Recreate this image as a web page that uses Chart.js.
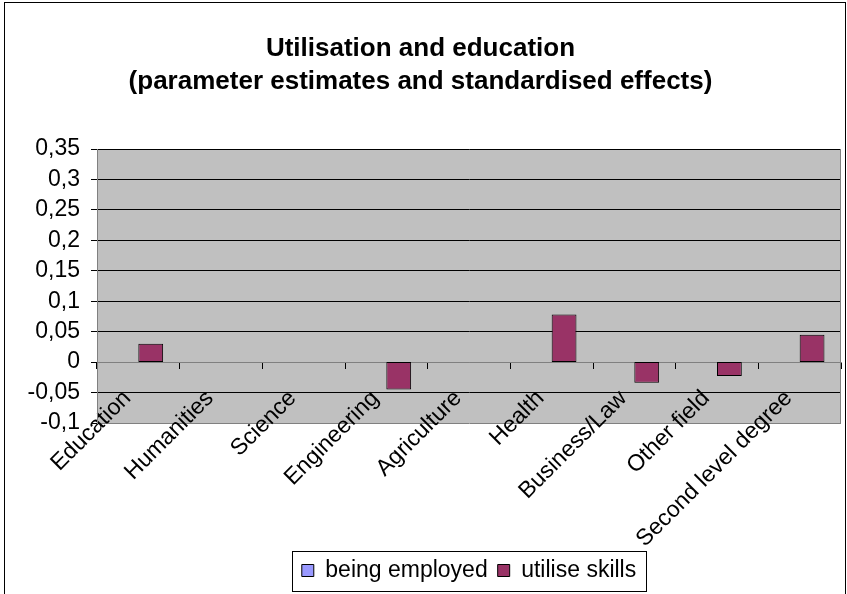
<!DOCTYPE html>
<html>
<head>
<meta charset="utf-8">
<script src="https://cdn.jsdelivr.net/npm/chart.js@4.4.1/dist/chart.umd.min.js"></script>
<style>
  html, body { margin: 0; padding: 0; background: #fff; }
  canvas { display: block; }
</style>
</head>
<body>
<canvas id="myChart" width="847" height="594"></canvas>
<script>
// data
const categories = ['Education', 'Humanities', 'Science', 'Engineering', 'Agriculture',
  'Health', 'Business/Law', 'Other field', 'Second level degree'];
const beingEmployed = [null, null, null, null, null, null, null, null, null];
const utiliseSkills = [0.03, null, null, -0.045, null, 0.078, -0.034, -0.023, 0.045];
const yTickLabels = ['-0,1', '-0,05', '0', '0,05', '0,1', '0,15', '0,2', '0,25', '0,3', '0,35'];
const titleLines = ['Utilisation and education', '(parameter estimates and standardised effects)'];

const FONT = "'Liberation Sans', Arial, sans-serif";
Chart.defaults.font.family = FONT;
Chart.defaults.color = '#000';

// white page, outer frame, grey plot area, plot border, legend frame
const frame = {
  id: 'frame',
  beforeDraw(chart) {
    const ctx = chart.ctx, a = chart.chartArea;
    ctx.save();
    ctx.fillStyle = '#fff';
    ctx.fillRect(0, 0, chart.width, chart.height);
    ctx.strokeStyle = '#000';
    ctx.lineWidth = 1;
    ctx.strokeRect(4.5, 2.5, 841, 600);
    ctx.fillStyle = '#c0c0c0';
    ctx.fillRect(a.left, a.top, a.right - a.left, a.bottom - a.top);
    ctx.restore();
  },
  afterDraw(chart) {
    const ctx = chart.ctx, a = chart.chartArea;
    ctx.save();
    ctx.strokeStyle = '#808080';
    ctx.lineWidth = 1;
    ctx.beginPath();
    ctx.moveTo(Math.round(a.right) - 0.5, a.top);
    ctx.lineTo(Math.round(a.right) - 0.5, a.bottom);
    ctx.stroke();
    const hb = chart.legend.legendHitBoxes;
    if (hb && hb.length) {
      const last = hb[hb.length - 1];
      const l = Math.round(hb[0].left - 10), r = Math.round(last.left + last.width + 10);
      const cy = Math.round(hb[0].top + hb[0].height / 2);
      ctx.strokeStyle = '#000';
      ctx.strokeRect(l + 0.5, cy - 20 + 0.5, r - l, 40);
    }
    ctx.restore();
  }
};

const init = function () {
  const ctx = document.getElementById('myChart').getContext('2d');
  new Chart(ctx, {
    type: 'bar',
    data: {
      labels: categories,
      datasets: [{
        label: 'being employed',
        data: beingEmployed,
        backgroundColor: '#9999ff',
        borderColor: '#000',
        borderWidth: 1,
        borderSkipped: false,
        xAxisID: 'x'
      }, {
        label: 'utilise skills',
        data: utiliseSkills,
        backgroundColor: '#993366',
        borderColor: '#000',
        borderWidth: 1,
        borderSkipped: false,
        xAxisID: 'x'
      }]
    },
    options: {
      responsive: false,
      animation: false,
      devicePixelRatio: 1,
      categoryPercentage: 0.6,
      barPercentage: 1,
      layout: { padding: { left: 0, right: 6, top: 0, bottom: 2 } },
      plugins: {
        tooltip: { enabled: false },
        title: {
          display: true,
          text: titleLines,
          color: '#000',
          font: { size: 26, weight: 'bold', lineHeight: 1.25 },
          padding: { top: 33, bottom: 51 }
        },
        legend: {
          position: 'bottom',
          fullSize: false,
          labels: {
            boxWidth: 12,
            boxHeight: 12,
            padding: 10,
            color: '#000',
            font: { size: 23 }
          }
        }
      },
      scales: {
        // bottom axis only keeps room for the slanted labels
        x: {
          type: 'category',
          offset: true,
          grid: { display: false },
          border: { display: false },
          ticks: { display: false },
          afterFit: s => { s.height = 126; }
        },
        // labels, drawn from the -0,1 line so they can run into the plot area
        xLabels: {
          type: 'category',
          position: { y: -0.1 },
          offset: true,
          grid: { display: false },
          border: { display: false },
          ticks: {
            autoSkip: false,
            minRotation: 45,
            maxRotation: 45,
            padding: -46,
            labelOffset: -11,
            color: '#000',
            font: { size: 23 }
          }
        },
        // category axis line with tick marks on the zero line
        xTicks: {
          type: 'category',
          position: { y: 0 },
          offset: true,
          grid: { offset: true, drawOnChartArea: false, drawTicks: true, tickLength: 6, tickColor: '#000' },
          border: { display: true, color: '#808080' },
          ticks: { display: false }
        },
        y: {
          min: -0.1,
          max: 0.35,
          afterFit: s => { s.width = 97; },
          grid: {
            color: c => (c.index === 0 || c.index === 2) ? '#808080' : '#000',
            tickColor: '#000',
            tickLength: 6
          },
          border: { display: true, color: '#808080' },
          ticks: {
            stepSize: 0.05,
            autoSkip: false,
            padding: 11,
            color: '#000',
            font: { size: 23 },
            callback: (v, i) => yTickLabels[i]
          }
        }
      }
    },
    plugins: [frame]
  });
};

document.addEventListener('DOMContentLoaded', init);
</script>
</body>
</html>
